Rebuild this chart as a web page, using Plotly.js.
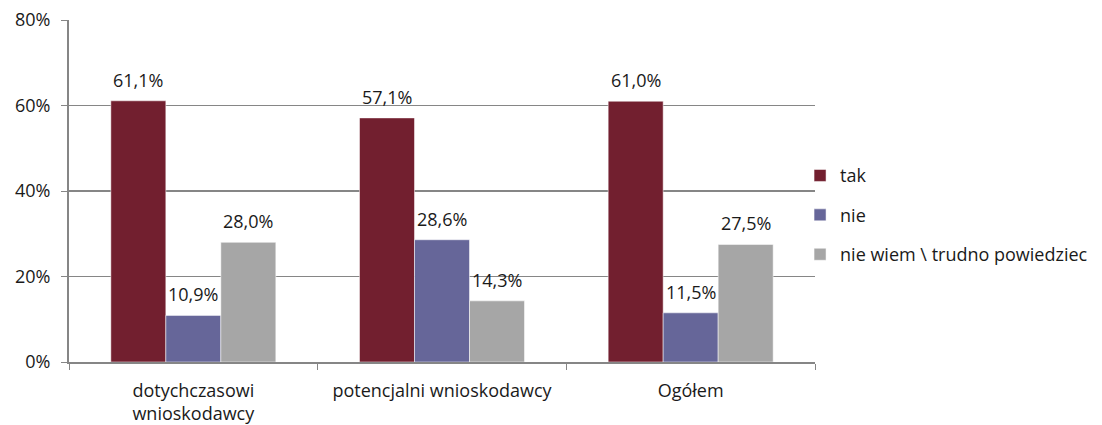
<!DOCTYPE html>
<html><head><meta charset="utf-8">
<script src="https://cdn.plot.ly/plotly-3.0.1.min.js"></script>
<style>html,body{margin:0;padding:0;background:#fff;}</style>
</head><body><div id="chart" style="width:1102px;height:425px;"></div>
<script>
const categories = ["dotychczasowi<br>wnioskodawcy", "potencjalni wnioskodawcy", "Ogółem"];
const seriesNames = ["tak", "nie", "nie wiem \\ trudno powiedziec"];
const takValues = [61.1, 57.1, 61.0];
const nieValues = [10.9, 28.6, 11.5];
const nieWiemValues = [28.0, 14.3, 27.5];
const colors = ["#721F2F", "#666699", "#A6A6A6"];
const yTicks = [0, 20, 40, 60, 80];

const allValues = [takValues, nieValues, nieWiemValues];
const fontFam = "'Open Sans', sans-serif";
const fs = 18;

const traces = allValues.map((vals, i) => ({
  type: 'bar', name: seriesNames[i], x: categories, y: vals,
  marker: {color: colors[i], line: {color: 'rgba(255,255,255,0.5)', width: 1}},
  legendgroup: 'g' + i, hoverinfo: 'skip'
}));

const annotations = [];
allValues.forEach((vals, i) => {
  vals.forEach((v, j) => {
    annotations.push({
      x: categories[j], y: v, xref: 'x', yref: 'y',
      text: v.toFixed(1).replace('.', ',') + '%',
      showarrow: false, xshift: (i - 1) * 55, yshift: 21,
      font: {size: fs, color: '#1a1a1a', family: fontFam}
    });
  });
});

const layout = {
  width: 1102, height: 425,
  margin: {l: 69, r: 287, t: 20, b: 63, autoexpand: false},
  paper_bgcolor: '#fff', plot_bgcolor: '#fff',
  barmode: 'group', bargap: 0.3365, bargroupgap: 0,
  font: {family: fontFam, size: fs, color: '#1a1a1a'},
  xaxis: {
    type: 'category', tickson: 'boundaries', ticks: 'outside', ticklen: 6,
    tickcolor: '#868686', showline: true, linecolor: '#868686', linewidth: 2,
    showgrid: false, zeroline: false, ticklabelstandoff: 11,
    tickfont: {size: fs, family: fontFam, color: '#1a1a1a'}
  },
  yaxis: {
    range: [0, 80], tickvals: yTicks, ticktext: yTicks.map(t => t + '%'),
    ticks: 'outside', ticklen: 6, tickcolor: '#868686',
    showline: true, linecolor: '#868686', linewidth: 2,
    showgrid: true, gridcolor: '#868686', gridwidth: 1.3, zeroline: false,
    ticklabelstandoff: 7,
    tickfont: {size: fs, family: fontFam, color: '#1a1a1a'}
  },
  showlegend: true,
  legend: {
    xref: 'container', yref: 'container', x: 0.726, y: 0.63, xanchor: 'left', yanchor: 'top',
    traceorder: 'grouped', tracegroupgap: 13, itemwidth: 30,
    font: {size: fs, family: fontFam, color: '#1a1a1a'}, bgcolor: 'rgba(0,0,0,0)'
  },
  annotations: annotations
};

Plotly.newPlot('chart', traces, layout, {displayModeBar: false, staticPlot: true});
</script></body></html>
